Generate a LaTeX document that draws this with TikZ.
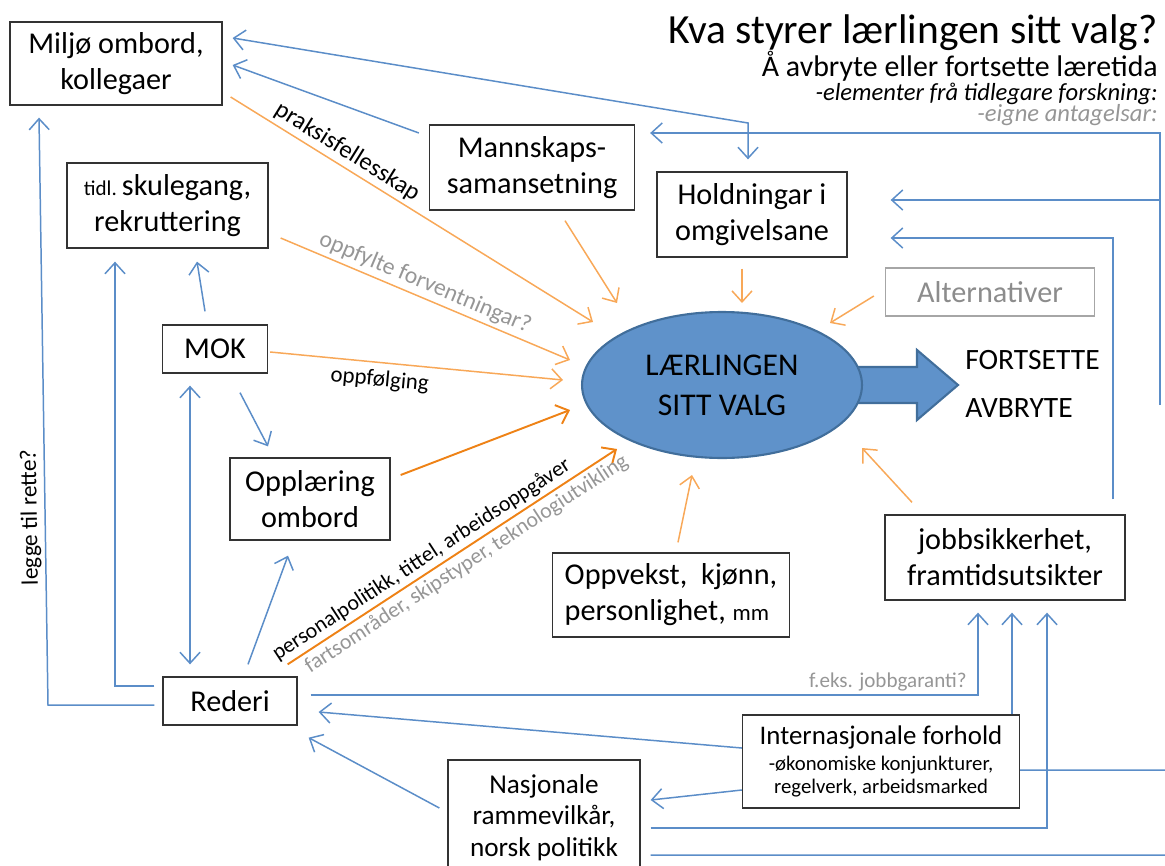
\documentclass[tikz,border=0pt]{standalone}
\usepackage{fontspec}
\setmainfont{Carlito}
\usetikzlibrary{arrows.meta,shapes.geometric}
\definecolor{linjeblaa}{RGB}{91,141,200}
\definecolor{lysoransj}{RGB}{248,168,88}
\definecolor{morkoransj}{RGB}{238,130,22}
\definecolor{ellfyll}{RGB}{95,146,202}
\definecolor{ellkant}{RGB}{65,110,155}
\definecolor{graatekst}{RGB}{150,150,150}

\begin{document}
\begin{tikzpicture}[x=0.02cm,y=-0.02cm,>={Straight Barb[length=2.2mm,width=4mm]},
  boks/.style={draw=black!80,line width=0.75pt,fill=white,align=center,inner sep=0pt,
    font=\fontsize{17.2}{20.4}\selectfont},
  blaa/.style={draw=linjeblaa,line width=0.85pt},
  oransj/.style={draw=lysoransj,line width=0.85pt,->},
  morkpil/.style={draw=morkoransj,line width=1.1pt,->},
  etikett/.style={sloped,inner sep=2pt}]
\clip (0,0) rectangle (1165,865);
% title
\node[anchor=base east,inner sep=0pt,font=\fontsize{23.6}{28}\selectfont] (tittel) at (1158,44) {Kva styrer lærlingen sitt valg?};
\node[anchor=base east,inner sep=0pt,font=\fontsize{17}{20}\selectfont] (undertittel) at (1158,76) {Å avbryte eller fortsette læretida};
\node[anchor=base east,inner sep=0pt,font=\fontsize{14}{16}\selectfont\itshape] (forsking) at (1158,100) {-elementer frå tidlegare forskning:};
\node[anchor=base east,inner sep=0pt,text=graatekst,font=\fontsize{14}{16}\selectfont\itshape] (antak) at (1158,121) {-eigne antagelsar:};

% boxes
\node[boks,minimum width=4.24cm,minimum height=1.66cm] (miljo) at (116,63.5) {Miljø ombord,\\kollegaer};
\node[boks,minimum width=4.02cm,minimum height=1.7cm] (tidl) at (167.5,205.5) {{\fontsize{12}{14}\selectfont tidl.}\,skulegang,\\rekruttering};
\node[boks,minimum width=4.1cm,minimum height=1.7cm] (mannskap) at (532,167.5) {Mannskaps-\\samansetning};
\node[boks,minimum width=3.8cm,minimum height=1.7cm] (holdning) at (752,214.5) {Holdningar i\\omgivelsane};
\node[boks,draw=black!35,text=black!45,minimum width=4.18cm,minimum height=0.96cm] (alt) at (990,292) {Alternativer};
\node[boks,minimum width=2.1cm,minimum height=0.96cm] (mok) at (215,349) {MOK};
\node[boks,minimum width=3.2cm,minimum height=1.64cm] (oppl) at (310,499) {Opplæring\\ombord};
\node[boks,align=left,minimum width=4.74cm,minimum height=1.68cm] (oppvekst) at (671,595) {Oppvekst,\ \ kjønn,\\personlighet, {\fontsize{13}{15}\selectfont mm}};
\node[boks,minimum width=4.8cm,minimum height=1.7cm] (jobb) at (1005,557.5) {jobbsikkerhet,\\framtidsutsikter};
\node[boks,minimum width=2.68cm,minimum height=0.96cm] (rederi) at (230,701) {Rederi};
\node[boks,minimum width=5.54cm,minimum height=1.86cm,font=\fontsize{15.3}{18}\selectfont] (intern) at (881,761.5) {Internasjonale forhold\\[-2.9pt]\fontsize{11.8}{14}\selectfont -økonomiske konjunkturer,\\[-5.1pt]\fontsize{11.8}{14}\selectfont regelverk, arbeidsmarked};
\node[boks,minimum width=3.84cm,minimum height=2.3cm,font=\fontsize{15.5}{17.9}\selectfont] (nasj) at (544,817.5) {Nasjonale\\rammevilkår,\\norsk politikk};

% the choice
\filldraw[fill=ellfyll,draw=ellkant,line width=1.2pt] (845,367) -- (917,367) -- (917,350) -- (958,385) -- (917,420) -- (917,403) -- (845,403) -- cycle;
\node[ellipse,fill=ellfyll,draw=ellkant,line width=1.2pt,minimum width=5.6cm,minimum height=2.92cm,inner sep=0pt,
  align=center,font=\fontsize{18}{22.7}\selectfont] (valg) at (722,385) {LÆRLINGEN\\SITT VALG};
\node[anchor=west,inner sep=0pt,font=\fontsize{16.8}{20}\selectfont] (fortsette) at (965,360) {FORTSETTE};
\node[anchor=west,inner sep=0pt,font=\fontsize{16.8}{20}\selectfont] (avbryte) at (965,408) {AVBRYTE};

\coordinate (kantopp) at (1160,405);
\coordinate (kantmidt) at (1160,200);
\coordinate (kantned1) at (1165,770);
\coordinate (kantned2) at (1165,855);

% blue connectors
\draw[blaa,<->] ([shift={(10,-25.5)}]miljo.east) -- (748,123) -- ([shift={(-4,-12)}]holdning.north);
\draw[blaa,->] ([shift={(-10,-34.5)}]mannskap.west) -- ([shift={(10,1.5)}]miljo.east);
\draw[blaa,->] ([shift={(-10,-13)}]mok.north) -- ([shift={(29.5,13)}]tidl.south);
\draw[blaa,->] ([shift={(-8,-15)}]rederi.west) -| ([shift={(-52.5,13)}]tidl.south);
\draw[blaa,->] ([shift={(-8,4)}]rederi.west) -- (48,705) -- ([shift={(-77,12)}]miljo.south)
  node[etikett,allow upside down,pos=0.32,above,text=black,font=\fontsize{13.3}{15}\selectfont] {legge til rette?};
\draw[blaa,<->] ([shift={(-25,12)}]mok.south) -- ([shift={(-40,-12)}]rederi.north);
\draw[blaa,->] ([shift={(25,19)}]mok.south) -- ([shift={(-42,-11)}]oppl.north);
\draw[blaa,->] ([shift={(18,-12)}]rederi.north) -- ([shift={(-22,15)}]oppl.south);
\draw[blaa,->] ([shift={(13,-6)}]rederi.east) -| ([shift={(-27,12)}]jobb.south)
  node[pos=0.5,anchor=south east,xshift=-4pt,inner sep=2pt,text=graatekst,font=\fontsize{12}{14}\selectfont] {f.eks. jobbgaranti?};
\draw[blaa,->] ([shift={(0,-13.5)}]intern.west) -- ([shift={(21,11)}]rederi.east);
\draw[blaa,->] ([shift={(0,28.5)}]intern.west) -- ([shift={(10,-17.5)}]nasj.east);
\draw[blaa,->] ([shift={(-8,-9.5)}]nasj.west) -- ([shift={(11,12)}]rederi.south east);
\draw[blaa,->] ([shift={(131,0)}]intern.north) -- ([shift={(7,12)}]jobb.south);
\draw[blaa,->] ([shift={(10,10.5)}]nasj.east) -| ([shift={(42,12)}]jobb.south);
\draw[blaa] ([shift={(10,37.5)}]nasj.east) -- (kantned2);
\draw[blaa] ([shift={(0,8.5)}]intern.east) -- (kantned1);
\draw[blaa,->] ([shift={(108,-15)}]jobb.north) |- ([shift={(43,23.5)}]holdning.east);
\draw[blaa,->] (kantopp) |- ([shift={(15,-34.5)}]mannskap.east);
\draw[blaa,->] (kantmidt) -- ([shift={(43,-14.5)}]holdning.east);

% orange connectors
\draw[oransj] ([shift={(8,33.5)}]miljo.east) -- ([shift={(-129,-63)}]valg.center)
  node[etikett,pos=0.3,above,font=\fontsize{14}{16}\selectfont] {praksisfellesskap};
\draw[oransj] ([shift={(12,32.5)}]tidl.east) -- ([shift={(-152,-25)}]valg.center)
  node[etikett,pos=0.48,above,text=graatekst,font=\fontsize{13.5}{16}\selectfont] {oppfylte forventningar?};
\draw[oransj] ([shift={(33,10)}]mannskap.south) -- ([shift={(-105,-82)}]valg.center);
\draw[oransj] ([shift={(-10,11)}]holdning.south) -- ([shift={(20,-82)}]valg.center);
\draw[oransj] ([shift={(-11,4)}]alt.west) -- ([shift={(108,-62)}]valg.center);
\draw[oransj] ([shift={(2,3)}]mok.east) -- ([shift={(-159,-5)}]valg.center)
  node[etikett,pos=0.38,below,yshift=-2pt,font=\fontsize{13}{15}\selectfont] {oppfølging};
\draw[morkpil] ([shift={(10,-24)}]oppl.east) -- ([shift={(-152,25)}]valg.center);
\draw[morkpil] ([shift={(-10,-12)}]rederi.north east) -- ([shift={(-105,64)}]valg.center)
  node[etikett,pos=0.43,above,font=\fontsize{12.4}{14}\selectfont] {personalpolitikk, tittel, arbeidsoppgåver}
  node[etikett,pos=0.52,below,text=graatekst,font=\fontsize{12.4}{14}\selectfont] {fartsområder, skipstyper, teknologiutvikling};
\draw[oransj] ([shift={(7,-10)}]oppvekst.north) -- ([shift={(-30,90)}]valg.center);
\draw[oransj] ([shift={(-93,-12)}]jobb.north) -- ([shift={(140,63)}]valg.center);
\end{tikzpicture}
\end{document}
